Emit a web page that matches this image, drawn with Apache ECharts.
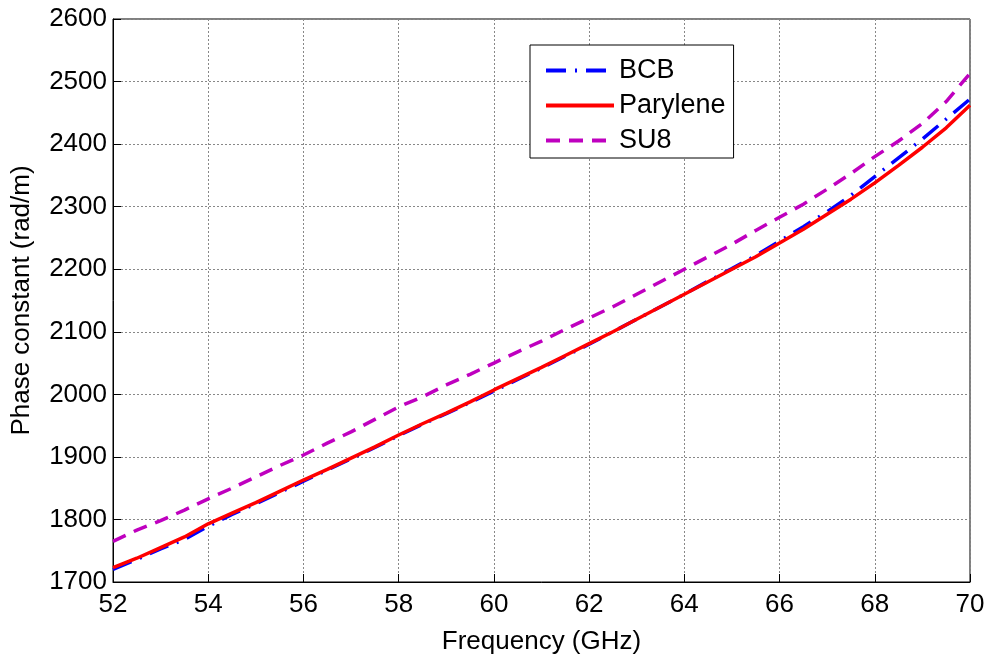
<!DOCTYPE html>
<html><head><meta charset="utf-8">
<script src="https://cdn.jsdelivr.net/npm/echarts@6/dist/echarts.min.js"></script>
<style>html,body{margin:0;padding:0;background:#fff}#c{width:989px;height:656px}</style>
</head><body><div id="c"></div>
<script>
var freq = [52,52.5,53,53.5,54,54.5,55,55.5,56,56.5,57,57.5,58,58.5,59,59.5,60,60.5,61,61.5,62,62.5,63,63.5,64,64.5,65,65.5,66,66.5,67,67.5,68,68.5,69,69.5,70];
var bcb = [1720,1736,1753,1768,1789,1808,1825,1843,1861,1879,1897,1915,1934,1952,1969,1987,2005,2024,2042,2061,2080,2100,2120,2140,2160,2181,2201,2222,2245,2268,2292,2318,2348,2378,2408,2440,2472];
var parylene = [1723,1738,1755,1772,1793,1810,1827,1845,1863,1880,1898,1916,1935,1953,1970,1988,2007,2025,2043,2062,2081,2100,2120,2140,2160,2180,2200,2220,2242,2264,2288,2312,2338,2366,2395,2426,2462];
var su8 = [1765,1783,1798,1815,1833,1850,1868,1886,1903,1922,1940,1960,1980,1996,2015,2032,2050,2068,2085,2104,2122,2140,2160,2180,2200,2220,2240,2262,2283,2304,2328,2353,2380,2405,2433,2468,2513];
var xTicks = [52,54,56,58,60,62,64,66,68,70];
var yTicks = [1700,1800,1900,2000,2100,2200,2300,2400,2500,2600];

function pairs(ys){return freq.map(function(f,i){return [f,ys[i]];});}
var font = 'Liberation Sans, Arial, sans-serif';
var chart = echarts.init(document.getElementById('c'));
var gridLine = {show:true, lineStyle:{color:'#888', type:[2,2], width:1}};
chart.setOption({
  animation:false,
  backgroundColor:'#fff',
  grid:{left:113,right:19,top:19,bottom:74,show:true,borderColor:'#000',borderWidth:1,
    containLabel:false,outerBoundsMode:'none'},
  xAxis:{type:'value',min:xTicks[0],max:xTicks[xTicks.length-1],interval:2,
    name:'Frequency (GHz)',nameLocation:'middle',nameGap:47,
    nameTextStyle:{fontFamily:font,fontSize:26,color:'#000'},
    axisLine:{lineStyle:{color:'#000'}},axisTick:{inside:true,length:8,lineStyle:{color:'#000'}},
    axisLabel:{fontFamily:font,fontSize:26,color:'#000',margin:10,formatter:function(v){return String(v);}},
    splitLine:gridLine},
  yAxis:{type:'value',min:yTicks[0],max:yTicks[yTicks.length-1],interval:100,
    name:'Phase constant (rad/m)',nameLocation:'middle',nameGap:78,
    nameTextStyle:{fontFamily:font,fontSize:26,color:'#000'},
    axisLine:{show:true,lineStyle:{color:'#000'}},axisTick:{show:true,inside:true,length:8,lineStyle:{color:'#000'}},
    axisLabel:{fontFamily:font,fontSize:26,color:'#000',margin:6,formatter:function(v){return String(v);}},
    splitLine:gridLine},
  legend:{left:530,top:45,orient:'vertical',backgroundColor:'#fff',borderColor:'#000',borderWidth:1,
    padding:[12,8,4,14],itemGap:8,itemWidth:68,itemHeight:16,
    itemStyle:{opacity:0},lineStyle:{width:4},
    textStyle:{fontFamily:font,fontSize:27,color:'#000'},
    data:['BCB','Parylene','SU8']},
  series:[
    {name:'BCB',type:'line',showSymbol:false,symbol:'none',data:pairs(bcb),
      lineStyle:{color:'#0000ff',width:3.5,type:[20,9,2,9]},itemStyle:{color:'#0000ff'},z:3},
    {name:'Parylene',type:'line',showSymbol:false,symbol:'none',data:pairs(parylene),
      lineStyle:{color:'#ff0000',width:3.5,type:'solid'},itemStyle:{color:'#ff0000'},z:4},
    {name:'SU8',type:'line',showSymbol:false,symbol:'none',data:pairs(su8),
      lineStyle:{color:'#bf00bf',width:3.5,type:[14,9]},itemStyle:{color:'#bf00bf'},z:2}
  ]
});
</script></body></html>
